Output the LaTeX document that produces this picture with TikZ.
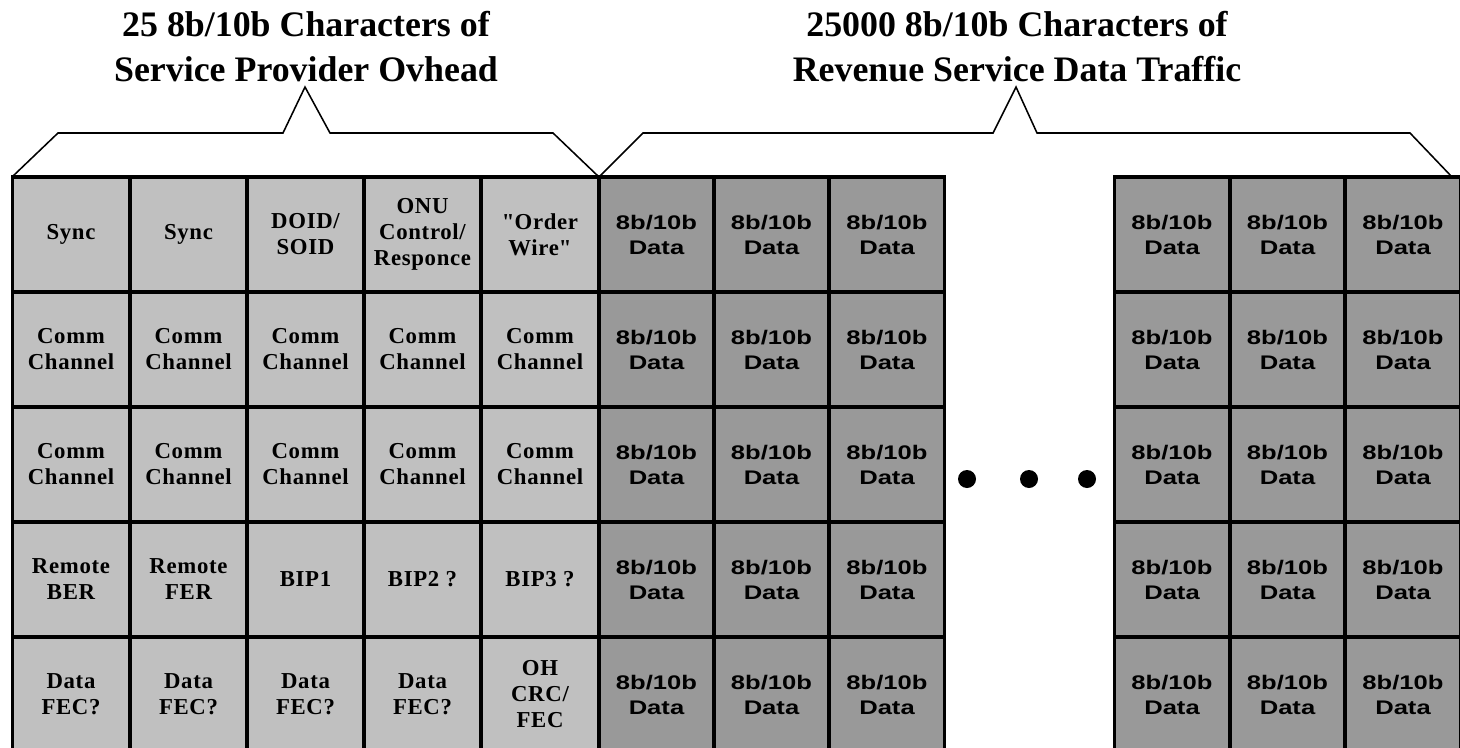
\documentclass[tikz,border=0pt]{standalone}
\usepackage{fontspec}
\setmainfont{Liberation Serif}
\newfontfamily\ohfont[LetterSpace=3]{Liberation Serif}
\newfontfamily\arialfont[FakeStretch=1.3]{Liberation Sans}
\usetikzlibrary{positioning}
\definecolor{ohgray}{HTML}{C0C0C0}
\definecolor{datagray}{HTML}{999999}

\begin{document}
\begin{tikzpicture}[x=0.025cm,y=-0.025cm,
  cell/.style={draw=black,line width=2.5pt,minimum height=2.875cm,inner sep=0pt,align=center},
  ohcell/.style={cell,fill=ohgray,minimum width=2.935cm,font=\ohfont\fontsize{16.2}{18.5}\selectfont\bfseries},
  datacell/.style={cell,fill=datagray,minimum width=2.885cm,font=\arialfont\fontsize{14}{17.8}\selectfont\bfseries},
  title/.style={align=center,font=\fontsize{25.5}{32}\selectfont\bfseries},
  brace/.style={line width=1.1pt,line join=miter},
  dot/.style={circle,fill=black,inner sep=0pt,minimum size=0.45cm}]
  \useasboundingbox (0,0) rectangle (1460,748);

  % Titulos
  \node[title] (ohtitle) at (306,47) {25 8b/10b Characters of\\Service Provider Ovhead};
  \node[title] (datatitle) at (1017,47) {25000 8b/10b Characters of\\Revenue Service Data Traffic};

  % Llaves
  \draw[brace] (12,177) -- (58,133) -- (283,133) -- (305,87) -- (330,133) -- (553,133) -- (599,177);
  \draw[brace] (599,177) -- (643,133) -- (993,133) -- (1016,87) -- (1037,133) -- (1410,133) -- (1452,177);

  % Caracteres de overhead
  \node[ohcell] (sync1) at (71,234.5) {Sync};
  \node[ohcell] (sync2) at (188.5,234.5) {Sync};
  \node[ohcell] (doid) at (305.5,234.5) {DOID/\\SOID};
  \node[ohcell] (onu) at (422.5,234.5) {ONU\\Control/\\Responce};
  \node[ohcell] (orderwire) at (540,234.5) {\textquotedbl Order\\Wire\textquotedbl};
  \foreach \r/\y in {a/349.5,b/464.5}{
    \foreach \c/\x in {1/71,2/188.5,3/305.5,4/422.5,5/540}{
      \node[ohcell] (comm-\r\c) at (\x,\y) {Comm\\Channel};
    }
  }
  \node[ohcell] (rber) at (71,579.5) {Remote\\BER};
  \node[ohcell] (rfer) at (188.5,579.5) {Remote\\FER};
  \node[ohcell] (bip1) at (305.5,579.5) {BIP1};
  \node[ohcell] (bip2) at (422.5,579.5) {BIP2 ?};
  \node[ohcell] (bip3) at (540,579.5) {BIP3 ?};
  \foreach \c/\x in {1/71,2/188.5,3/305.5,4/422.5}{
    \node[ohcell] (fec\c) at (\x,694.5) {Data\\FEC?};
  }
  \node[ohcell] (ohcrc) at (540,694.5) {OH\\CRC/\\FEC};

  % Caracteres de datos
  \foreach \r/\y in {1/234.5,2/349.5,3/464.5,4/579.5,5/694.5}{
    \foreach \c/\x in {1/656.5,2/771.5,3/887}{
      \node[datacell] (dl-\r-\c) at (\x,\y) {8b/10b\\Data};
    }
    \foreach \c/\x in {1/1172,2/1287.5,3/1403}{
      \node[datacell] (dr-\r-\c) at (\x,\y) {8b/10b\\Data};
    }
  }

  % Puntos suspensivos
  \node[dot] (dot1) at (967,479) {};
  \node[dot] (dot2) at (1029,479) {};
  \node[dot] (dot3) at (1087,479) {};
\end{tikzpicture}
\end{document}
